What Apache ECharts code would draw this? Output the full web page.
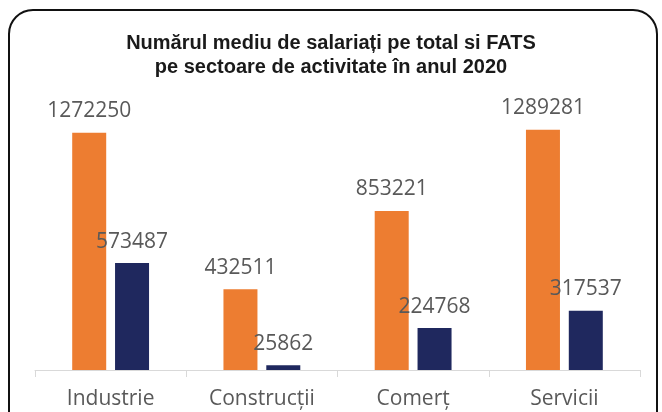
<!DOCTYPE html>
<html>
<head>
<meta charset="utf-8">
<script src="https://cdn.jsdelivr.net/npm/echarts@6/dist/echarts.min.js"></script>
<style>
  html, body { margin: 0; padding: 0; background: #ffffff; }
  #plot { width: 662px; height: 412px; }
</style>
</head>
<body>
<div id="plot"></div>
<script>
// Chart data
const sectors = ["Industrie", "Construcții", "Comerț", "Servicii"];
const totalValues = [1272250, 432511, 853221, 1289281];
const fatsValues = [573487, 25862, 224768, 317537];

const plotElement = document.getElementById("plot");
const chart = echarts.init(plotElement);

// Shared label style for bar values
const valueLabel = {
    show: true,
    position: "top",
    distance: 11,
    color: "#595959",
    fontSize: 21,
    fontFamily: "Open Sans, Noto Sans, sans-serif"
};

const option = {
    animation: false,

    // TITLE
    title: {
        text: "Numărul mediu de salariați pe total si FATS\npe sectoare de activitate în anul 2020",
        left: "center",
        top: 26,
        textStyle: {
            fontFamily: "Liberation Sans, Arial, sans-serif",
            fontWeight: "bold",
            fontSize: 20,
            lineHeight: 24,
            color: "#1a1a1a"
        }
    },

    // Rounded frame around the chart
    graphic: [{
        type: "rect",
        shape: { x: 9, y: 10, width: 648, height: 430, r: 24 },
        style: { fill: "none", stroke: "#111111", lineWidth: 2 },
        silent: true
    }],

    grid: { left: 35, right: 22, top: 109, bottom: 42 },

    // XAXIS
    xAxis: {
        type: "category",
        data: sectors,
        axisLine: { lineStyle: { color: "#d9d9d9", width: 1 } },
        axisTick: { show: true, length: 7, lineStyle: { color: "#d9d9d9" } },
        axisLabel: {
            color: "#595959",
            fontSize: 21,
            margin: 19,
            fontFamily: "Open Sans, Noto Sans, sans-serif"
        }
    },

    // YAXIS
    yAxis: {
        type: "value",
        min: 0,
        max: 1400000,
        show: false,
        splitLine: { show: false }
    },

    // SERIES
    series: [
        {
            name: "Total",
            type: "bar",
            data: totalValues,
            barWidth: 34,
            barGap: "26%",
            itemStyle: { color: "#ED7D31" },
            label: valueLabel
        },
        {
            name: "FATS",
            type: "bar",
            data: fatsValues,
            barWidth: 34,
            itemStyle: { color: "#1F285E" },
            label: valueLabel
        }
    ]
};

chart.setOption(option);
</script>
</body>
</html>
